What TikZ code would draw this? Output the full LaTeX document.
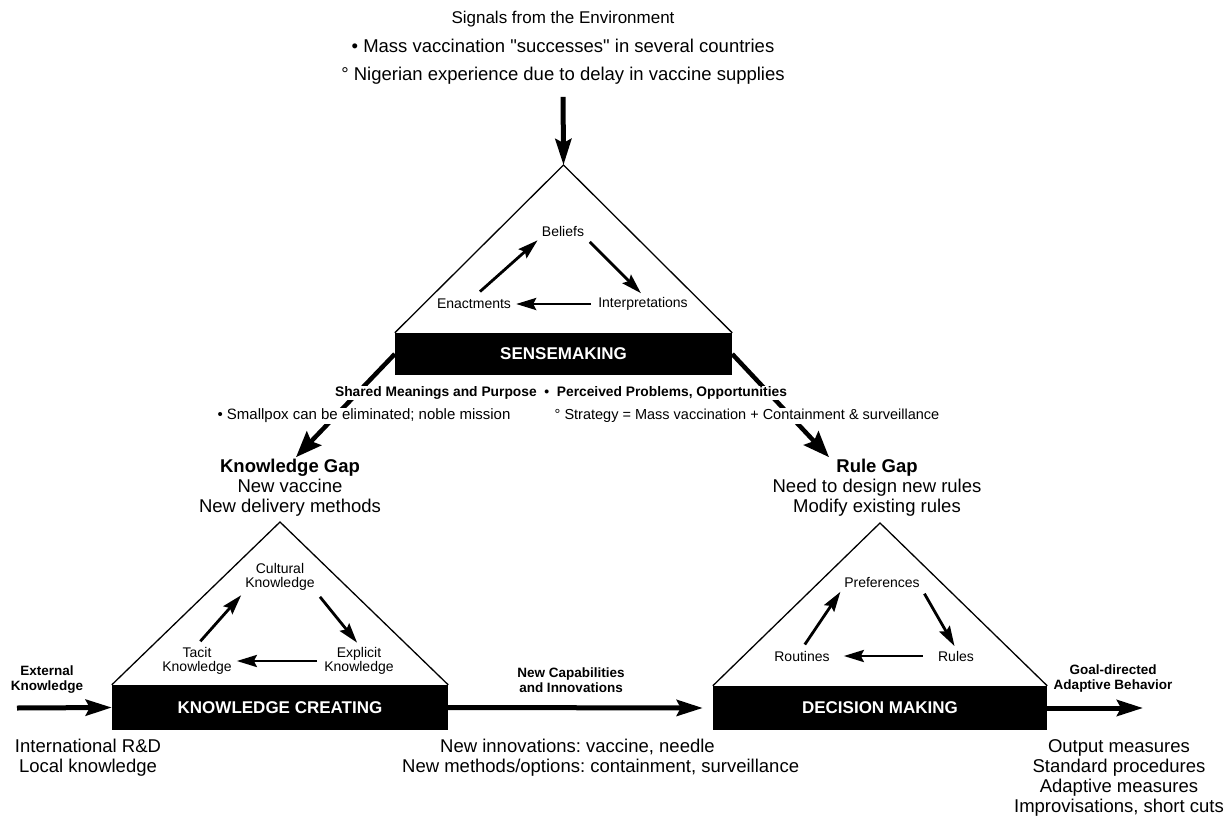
\documentclass[tikz,border=0pt]{standalone}
\usepackage{fontspec}
\setmainfont{Liberation Sans}
\usetikzlibrary{arrows.meta}
\frenchspacing

\tikzset{
  tri/.style={line width=1.3pt},
  stage/.style={fill=black, text=white, inner sep=0pt, font=\bfseries\fontsize{17}{18}\selectfont},
  inlabel/.style={align=center, inner sep=2pt, font=\fontsize{14}{14.5}\selectfont},
  cyc/.style={line width=2.8pt, -{Stealth[length=20pt,width=12pt,inset=3pt]}, shorten <=5pt, shorten >=3pt},
  flow/.style={line width=5pt, -{Stealth[length=26pt,width=16pt,inset=4pt]}},
  diag/.style={line width=4.5pt, -{Stealth[length=26pt,width=20pt,inset=4pt]}},
  big/.style={align=center, inner sep=2pt, font=\fontsize{18.5}{20}\selectfont},
  tag/.style={align=center, inner sep=1pt, font=\bfseries\fontsize{13.5}{15}\selectfont},
  note/.style={fill=white, inner sep=1pt, font=\fontsize{15}{16}\selectfont},
}

\begin{document}
\begin{tikzpicture}[x=1pt,y=-1pt]
  \useasboundingbox (0,0) rectangle (1228,821);

  % signals and sensemaking
  \node[big] (signals) at (563,48)
    {{\fontsize{17}{28.5}\selectfont Signals from the Environment}\\[8.5pt]
     • Mass vaccination \textquotedbl successes\textquotedbl{} in several countries\\[8.5pt]
     ° Nigerian experience due to delay in vaccine supplies};
  \node[stage, minimum width=337pt, minimum height=42pt] (sense) at (563.5,354) {SENSEMAKING};
  \coordinate (senseTop) at (563.5,165);
  \draw[tri] (sense.north west) -- (senseTop) -- (sense.north east);
  \draw[flow, shorten <=10pt] (signals.south) -- (senseTop);

  \node[inlabel] (beliefs) at (563,231) {Beliefs};
  \node[inlabel] (enact) at (474,304) {Enactments};
  \node[inlabel] (interp) at (643,304) {Interpretations};
  \draw[cyc, shorten <=8pt] (enact.north) -- (beliefs.south west);
  \draw[cyc] (beliefs.south east) -- (interp.north);
  \draw[cyc] (interp.west) -- (enact.east);

  % gaps
  \node[big] (kgap) at (290,488) {\textbf{Knowledge Gap}\\New vaccine\\New delivery methods};
  \node[big] (rgap) at (877,488) {\textbf{Rule Gap}\\Need to design new rules\\Modify existing rules};
  \draw[diag] (sense.west) -- ([xshift=6pt]kgap.north);
  \draw[diag] (sense.east) -- ([xshift=-48pt]rgap.north);

  \node[note, font=\bfseries\fontsize{13.8}{15}\selectfont] (shared) at (561,393)
    {Shared Meanings and Purpose \ • \ Perceived Problems, Opportunities};
  \node[note] (smallpox) at (364,416) {• Smallpox can be eliminated; noble mission};
  \node[note, font=\fontsize{14.5}{16}\selectfont] (strategy) at (747,416)
    {° Strategy = Mass vaccination + Containment \& surveillance};

  % knowledge creating
  \node[stage, minimum width=336pt, minimum height=45pt] (kcreate) at (280,707.5) {KNOWLEDGE CREATING};
  \coordinate (kTop) at (280,522);
  \draw[tri] (kcreate.north west) -- (kTop) -- (kcreate.north east);

  \node[inlabel] (cult) at (280,577) {Cultural\\Knowledge};
  \node[inlabel] (tacit) at (197,661) {Tacit\\Knowledge};
  \node[inlabel] (expl) at (359,661) {Explicit\\Knowledge};
  \draw[cyc] (tacit.north) -- (cult.south west);
  \draw[cyc] (cult.south east) -- (expl.north);
  \draw[cyc] (expl.west) -- (tacit.east);

  % decision making
  \node[stage, minimum width=334pt, minimum height=44pt] (dmake) at (880,708) {DECISION MAKING};
  \coordinate (dTop) at (880,523);
  \draw[tri] (dmake.north west) -- (dTop) -- (dmake.north east);

  \node[inlabel] (pref) at (882,582) {Preferences};
  \node[inlabel] (rout) at (802,656) {Routines};
  \node[inlabel] (rules) at (956,656) {Rules};
  \draw[cyc] (rout.north) -- (pref.south west);
  \draw[cyc] (pref.south east) -- (rules.north);
  \draw[cyc, shorten <=13pt, shorten >=12pt] (rules.west) -- (rout.east);

  % flows between stages
  \node[tag] (extk) at (47,680) {External\\Knowledge};
  \coordinate (extIn) at (17,708);
  \draw[flow] (extIn) -- (kcreate.west);

  \node[tag] (newcap) at (571,680) {New Capabilities\\and Innovations};
  \draw[flow, shorten >=10pt] (kcreate.east) -- (dmake.west);

  \node[tag] (goal) at (1113,679) {Goal-directed\\Adaptive Behavior};
  \coordinate (goalOut) at (1143,708);
  \draw[flow] (dmake.east) -- (goalOut);

  % bottom texts
  \node[big] (kcsrc) at (88,758) {International R\&D\\Local knowledge};
  \node[big, align=left, anchor=west] (innov) at (400,758)
    {\hspace*{38pt}New innovations: vaccine, needle\\New methods/options: containment, surveillance};
  \node[big] (outcomes) at (1119,778)
    {Output measures\\Standard procedures\\Adaptive measures\\Improvisations, short cuts};
\end{tikzpicture}
\end{document}
